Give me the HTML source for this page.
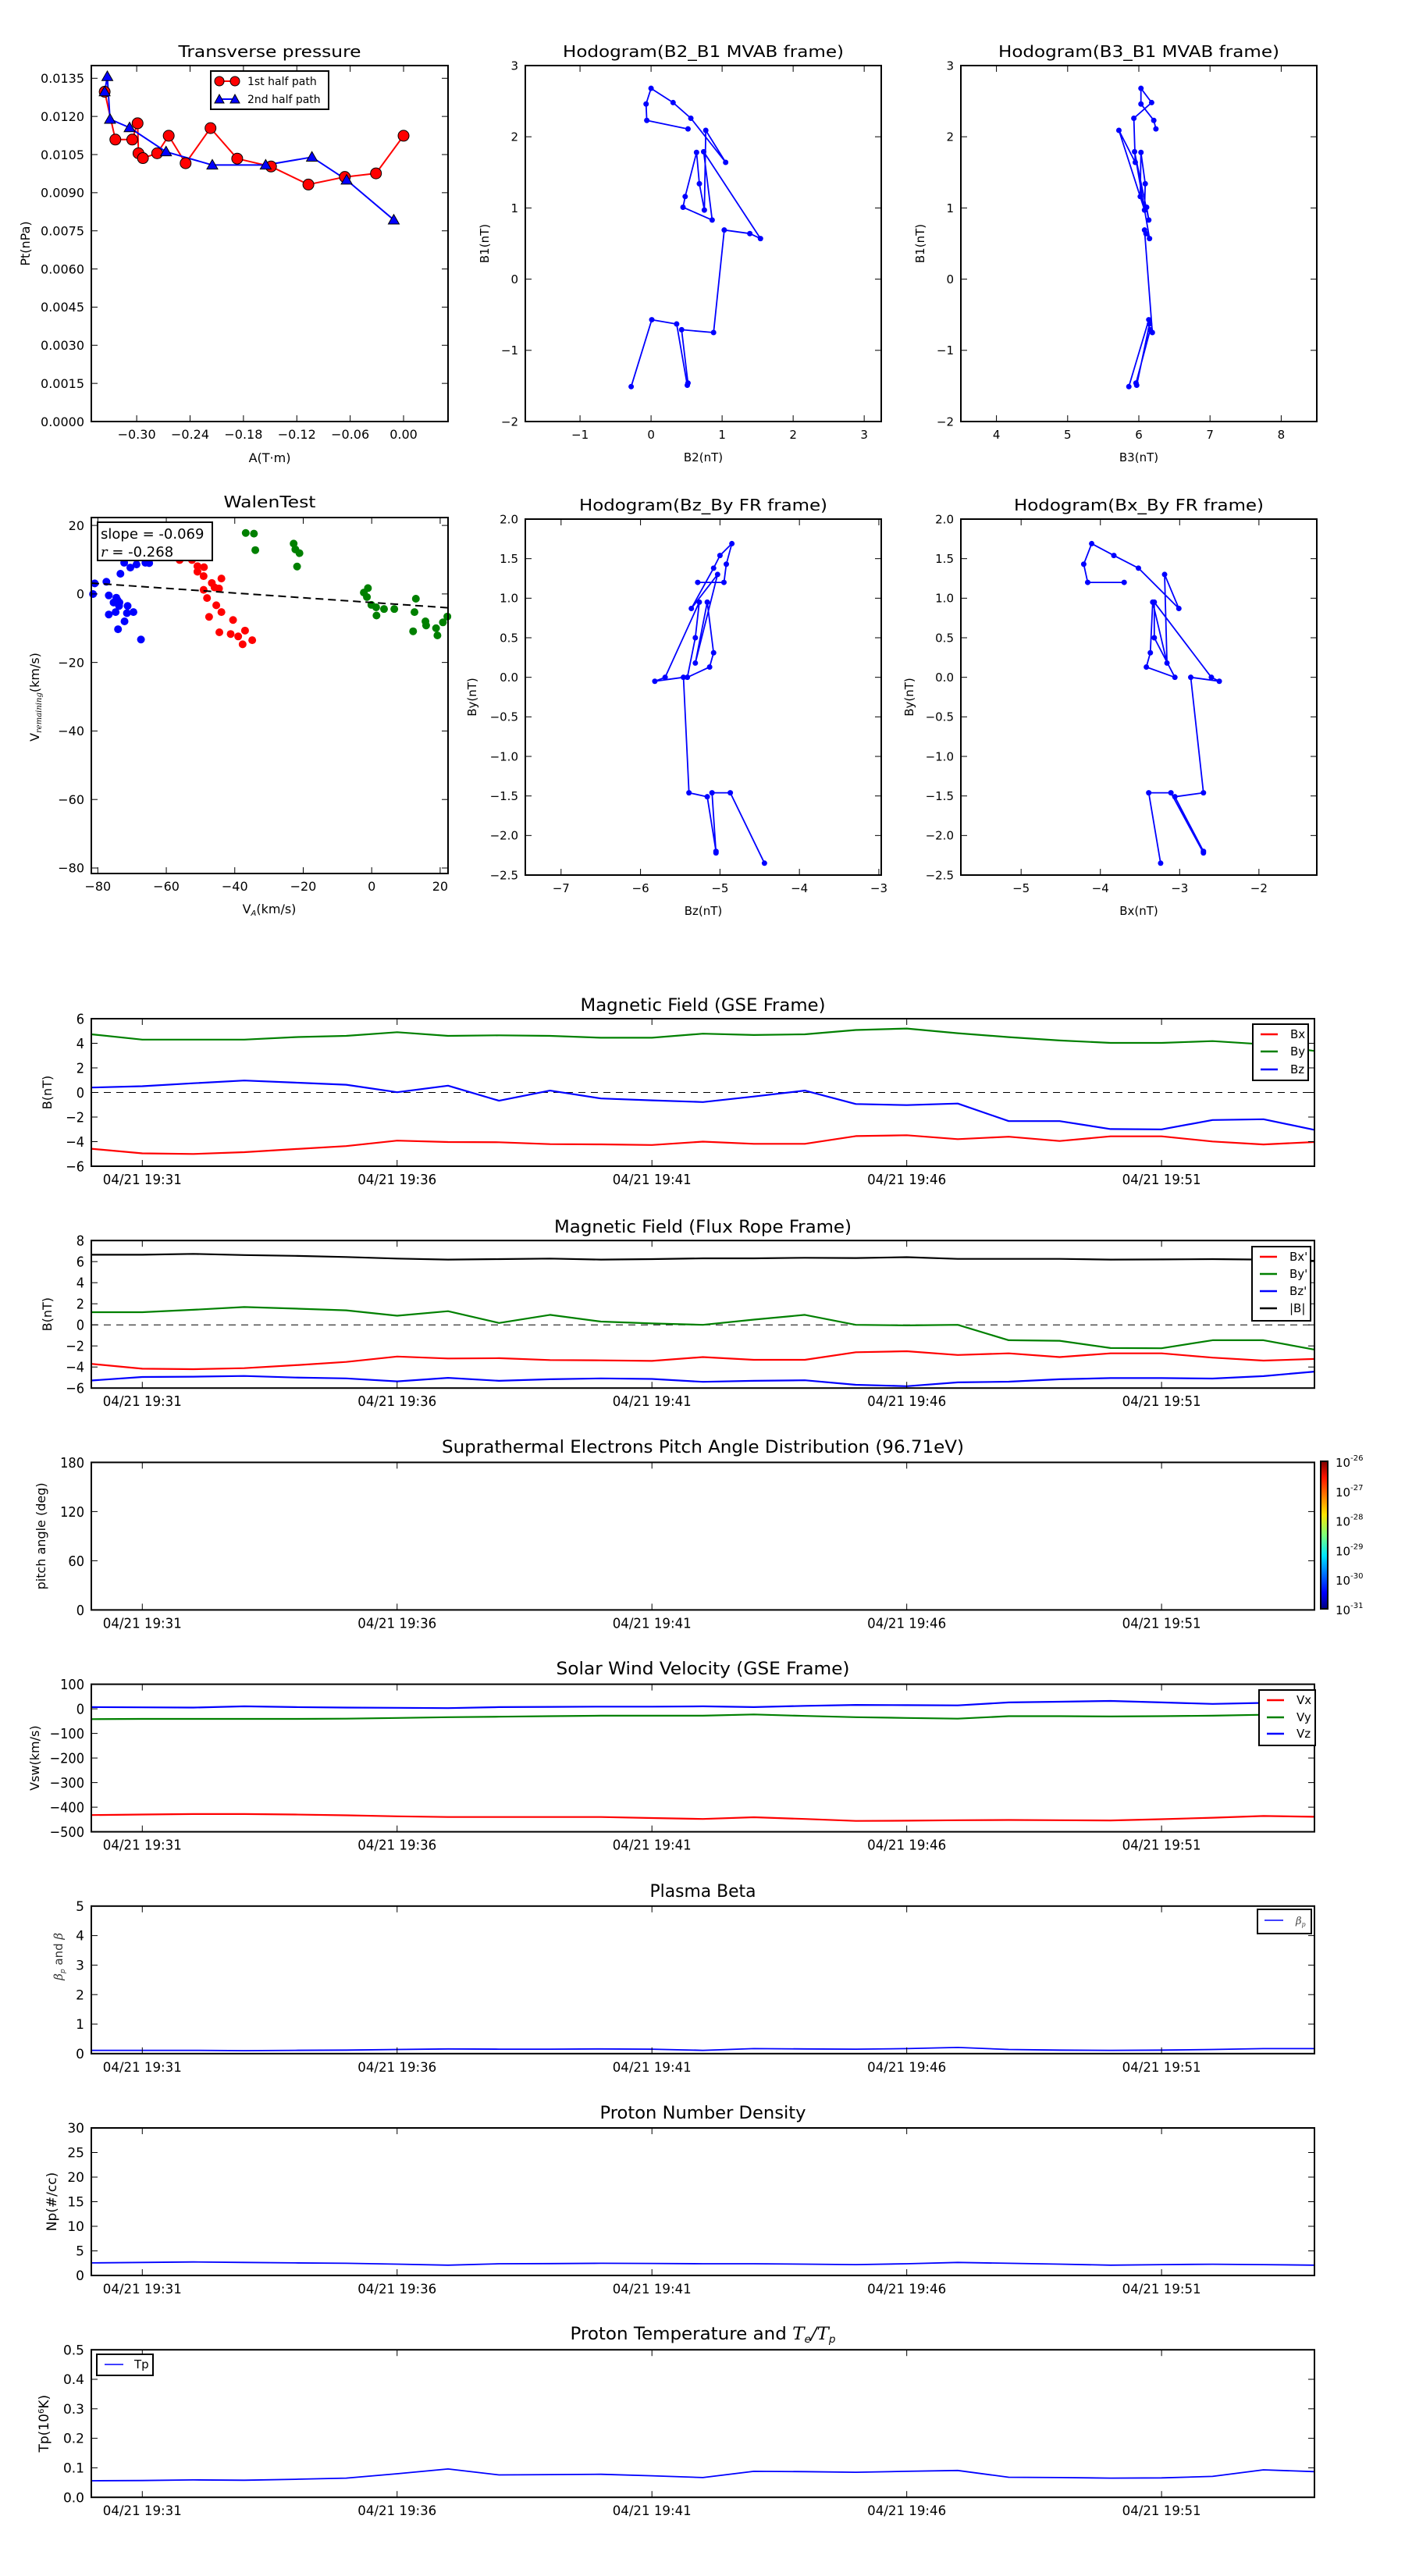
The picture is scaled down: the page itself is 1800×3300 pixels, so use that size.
<!DOCTYPE html>
<html><head><meta charset="utf-8"><title>Flux rope analysis</title>
<style>
html,body{margin:0;padding:0;background:#fff;}
svg{display:block;font-family:"DejaVu Sans","Liberation Sans",sans-serif;}
</style></head>
<body>
<svg id="fig" xmlns="http://www.w3.org/2000/svg" width="1800" height="3300" viewBox="0 0 1800 3300"></svg>
<script>
// ---------- Transverse pressure data ----------
const ptA1 = [-0.336,-0.324,-0.305,-0.299,-0.298,-0.293,-0.277,-0.264,-0.245,-0.217,-0.187,-0.149,-0.107,-0.066,-0.031,0.0];
const ptP1 = [0.01297,0.01109,0.01109,0.01173,0.01055,0.01036,0.01055,0.01124,0.01016,0.01154,0.01034,0.01003,0.00932,0.00962,0.00976,0.01124];
const ptA2 = [-0.011,-0.064,-0.103,-0.155,-0.215,-0.267,-0.308,-0.330,-0.333,-0.336];
const ptP2 = [0.00793,0.0095,0.0104,0.01009,0.01009,0.01061,0.01156,0.01189,0.01357,0.01297];
const ptXTicks = [-0.30,-0.24,-0.18,-0.12,-0.06,0.00];
const ptXLabels = ['\u22120.30','\u22120.24','\u22120.18','\u22120.12','\u22120.06','0.00'];
const ptYTicks = [0,0.0015,0.003,0.0045,0.006,0.0075,0.009,0.0105,0.012,0.0135];
const ptYLabels = ['0.0000','0.0015','0.0030','0.0045','0.0060','0.0075','0.0090','0.0105','0.0120','0.0135'];
// ---------- MVAB hodogram ----------
const mvB1 = [2.11,2.23,2.46,2.68,2.48,2.26,1.64,2.09,0.97,1.34,1.78,1.16,1.01,0.83,1.79,0.57,0.64,0.69,-0.75,-0.71,-1.46,-1.49,-0.63,-0.57,-1.51];
const mvB2 = [0.52,-0.06,-0.07,0.0,0.31,0.56,1.05,0.77,0.75,0.68,0.64,0.48,0.45,0.86,0.74,1.54,1.39,1.03,0.88,0.43,0.52,0.51,0.36,0.01,-0.28];
const mvB3 = [6.24,6.21,6.03,6.03,6.18,5.93,5.95,5.72,6.08,6.09,6.03,6.02,6.11,6.14,5.94,6.15,6.10,6.08,6.19,6.16,5.96,5.97,6.15,6.14,5.86];
// ---------- Walen test ----------
const walBlueX = [-81.4,-80.9,-77.5,-76.8,-74.6,-74.2,-73.7,-75.4,-73.8,-74.8,-76.8,-72.2,-74.1,-71.3,-71.5,-69.6,-73.4,-70.5,-68.7,-72.3,-67.4,-66.1,-65.0];
const walBlueY = [-0.03,3.07,3.56,-0.44,-1.1,-1.9,-2.5,-2.5,-3.5,-5.3,-6.0,-8.0,-10.3,-3.5,-5.6,-5.3,5.9,7.7,8.6,9.1,-13.3,9.1,9.0];
const walRedX = [-56.1,-52.5,-50.9,-49.0,-50.9,-49.1,-43.9,-46.7,-45.9,-44.6,-49.1,-48.1,-45.4,-43.9,-47.5,-40.5,-44.5,-41.2,-39.0,-37.0,-37.7,-34.9];
const walRedY = [9.9,9.9,8.1,7.8,6.5,5.2,4.5,3.2,1.9,1.6,1.2,-1.2,-3.3,-5.3,-6.7,-7.6,-11.2,-11.7,-12.4,-10.7,-14.7,-13.5];
const walGreenX = [-36.8,-34.4,-34.0,-22.8,-22.3,-21.1,-21.8,-2.3,-1.1,-1.4,-0.1,1.3,1.4,3.6,6.6,12.1,12.5,12.9,15.7,15.9,18.8,19.2,20.8,22.1];
const walGreenY = [17.8,17.6,12.8,14.7,13.0,11.9,8.0,0.4,1.7,-0.9,-3.2,-3.9,-6.3,-4.4,-4.4,-10.9,-5.3,-1.4,-8.0,-9.2,-10.0,-12.1,-8.3,-6.6];
const walSlope = [-0.069];
const walIntercept = [-2.5];
const walTicks = [-80,-60,-40,-20,0,20];
const walTickLabels = ['\u221280','\u221260','\u221240','\u221220','0','20'];
// ---------- Time series ----------
const minutes = [0,1,2,3,4,5,6,7,8,9,10,11,12,13,14,15,16,17,18,19,20,21,22,23,24];
const timeTicks = [1,6,11,16,21];
const timeTickLabels = ['04/21 19:31','04/21 19:36','04/21 19:41','04/21 19:46','04/21 19:51'];
const gseBx = [-4.58,-4.95,-5.0,-4.86,-4.6,-4.36,-3.92,-4.03,-4.05,-4.2,-4.22,-4.27,-4.0,-4.18,-4.18,-3.55,-3.48,-3.8,-3.6,-3.95,-3.57,-3.57,-3.99,-4.23,-4.03];
const gseBy = [4.73,4.3,4.3,4.3,4.5,4.6,4.9,4.6,4.65,4.6,4.45,4.45,4.78,4.67,4.73,5.08,5.2,4.82,4.5,4.23,4.03,4.03,4.18,3.92,3.38];
const gseBz = [0.4,0.51,0.75,0.97,0.8,0.63,0.02,0.55,-0.67,0.15,-0.49,-0.64,-0.78,-0.33,0.15,-0.94,-1.03,-0.9,-2.33,-2.33,-2.98,-3.0,-2.24,-2.18,-3.04];
const frBx = [-3.7,-4.16,-4.21,-4.11,-3.83,-3.52,-3.01,-3.19,-3.16,-3.34,-3.37,-3.42,-3.06,-3.32,-3.32,-2.6,-2.5,-2.86,-2.7,-3.06,-2.7,-2.7,-3.11,-3.39,-3.24];
const frBy = [1.2,1.2,1.43,1.69,1.54,1.38,0.87,1.3,0.18,0.95,0.31,0.13,0.0,0.5,0.95,0.0,-0.05,0.0,-1.46,-1.51,-2.2,-2.22,-1.46,-1.46,-2.35];
const frBz = [-5.28,-4.95,-4.92,-4.85,-5.0,-5.08,-5.36,-5.03,-5.31,-5.16,-5.08,-5.13,-5.41,-5.31,-5.26,-5.69,-5.82,-5.46,-5.39,-5.16,-5.05,-5.05,-5.1,-4.87,-4.44];
const frBt = [6.65,6.65,6.73,6.62,6.55,6.44,6.29,6.19,6.24,6.29,6.19,6.24,6.31,6.31,6.36,6.34,6.42,6.26,6.26,6.26,6.19,6.21,6.24,6.19,6.08];
const vx = [-432,-430,-428,-428,-430,-433,-437,-440,-440,-440,-440,-444,-448,-441,-448,-456,-455,-453,-452,-453,-454,-449,-443,-436,-439];
const vy = [-42,-41,-41,-41,-41,-40,-37,-34,-32,-30,-28,-28,-28,-23,-29,-34,-37,-40,-30,-30,-31,-30,-28,-24,-15];
const vz = [7,6,5,10,7,5,4,3,7,8,9,9,10,7,12,16,15,14,26,29,32,26,20,24,29];
const betaP = [0.11,0.11,0.11,0.10,0.11,0.12,0.14,0.16,0.15,0.15,0.16,0.15,0.11,0.17,0.16,0.15,0.17,0.21,0.14,0.12,0.11,0.12,0.14,0.17,0.17];
const np = [2.56,2.65,2.74,2.65,2.56,2.47,2.3,2.1,2.38,2.42,2.47,2.44,2.38,2.38,2.3,2.2,2.38,2.65,2.47,2.3,2.1,2.2,2.29,2.2,2.1];
const tp = [0.056,0.057,0.059,0.058,0.061,0.065,0.08,0.096,0.076,0.077,0.078,0.073,0.067,0.088,0.087,0.085,0.088,0.091,0.068,0.067,0.065,0.066,0.071,0.093,0.087];

const NS = 'http://www.w3.org/2000/svg';
const svg = document.getElementById('fig');
function named(el, n) {
  
  
  return el;
}
function mk(tag, attrs, parent, text) {
  const e = document.createElementNS(NS, tag);
  for (const k in attrs) e.setAttribute(k, attrs[k]);
  if (text !== undefined) e.textContent = text;
  (parent || svg).appendChild(e);
  return e;
}
function group(name) {
  const g = mk('g', {});
  named(g, name);
  return g;
}
function makeAxes(g, x, y, w, h, xmin, xmax, ymin, ymax) {
  return {g, x, y, w, h,
    sx: v => x + (v - xmin) / (xmax - xmin) * w,
    sy: v => y + h - (v - ymin) / (ymax - ymin) * h};
}
function frame(ax) {
  const r = mk('rect', {x: ax.x, y: ax.y, width: ax.w, height: ax.h, fill: 'none', stroke: '#000', 'stroke-width': 2}, ax.g);
  named(r, 'plot-frame');
}
function xTicks(ax, ticks, labels, opt) {
  opt = opt || {};
  const fs = opt.fs || 16;
  ticks.forEach((t, i) => {
    const px = ax.sx(t);
    const a = mk('line', {x1: px, x2: px, y1: ax.y + ax.h, y2: ax.y + ax.h - 8, stroke: '#000', 'stroke-width': 1}, ax.g);
    named(a, 'x-tick');
    const b = mk('line', {x1: px, x2: px, y1: ax.y, y2: ax.y + 8, stroke: '#000', 'stroke-width': 1}, ax.g);
    named(b, 'x-tick');
    const attrs = {x: px, y: ax.y + ax.h + (opt.dy || 22), 'font-size': fs, 'text-anchor': 'middle', fill: '#000'};
    if (opt.cond) attrs['font-family'] = '"DejaVu Sans Condensed","Liberation Sans Narrow","DejaVu Sans",sans-serif';
    if (opt.tl) { attrs['textLength'] = opt.tl; attrs['lengthAdjust'] = 'spacingAndGlyphs'; }
    const t2 = mk('text', attrs, ax.g, labels[i]);
    named(t2, 'x-tick-label');
  });
}
function yTicks(ax, ticks, labels, opt) {
  opt = opt || {};
  const fs = opt.fs || 16;
  ticks.forEach((t, i) => {
    const py = ax.sy(t);
    const a = mk('line', {x1: ax.x, x2: ax.x + 8, y1: py, y2: py, stroke: '#000', 'stroke-width': 1}, ax.g);
    named(a, 'y-tick');
    const b = mk('line', {x1: ax.x + ax.w, x2: ax.x + ax.w - 8, y1: py, y2: py, stroke: '#000', 'stroke-width': 1}, ax.g);
    named(b, 'y-tick');
    const attrs = {x: ax.x - 9, y: py + fs * 0.36, 'font-size': fs, 'text-anchor': 'end', fill: '#000'};
    if (opt.cond) attrs['font-family'] = '"DejaVu Sans Condensed","Liberation Sans Narrow","DejaVu Sans",sans-serif';
    const t2 = mk('text', attrs, ax.g, labels[i]);
    named(t2, 'y-tick-label');
  });
}
function title(ax, txt, baseline, width, cond, fs) {
  const attrs = {x: ax.x + ax.w / 2, y: baseline, 'font-size': fs || 20, 'text-anchor': 'middle', fill: '#000'};
  if (width) { attrs.textLength = width; attrs.lengthAdjust = 'spacingAndGlyphs'; }
  if (cond) attrs['font-family'] = '"DejaVu Sans Condensed","Liberation Sans Narrow","DejaVu Sans",sans-serif';
  const t = mk('text', attrs, ax.g, txt);
  named(t, 'chart-title');
  return t;
}
function xLabel(ax, txt, baseline, fs) {
  const t = mk('text', {x: ax.x + ax.w / 2, y: baseline, 'font-size': fs || 16, 'text-anchor': 'middle'}, ax.g, txt);
  named(t, 'x-axis-title');
  return t;
}
function yLabel(ax, txt, cx, fs) {
  const cy = ax.y + ax.h / 2;
  const t = mk('text', {x: cx, y: cy, 'font-size': fs || 16, 'text-anchor': 'middle', transform: 'rotate(-90 ' + cx + ' ' + cy + ')'}, ax.g, txt);
  named(t, 'y-axis-title');
  return t;
}
function polyline(ax, xs, ys, color, w, name, dash) {
  const pts = xs.map((v, i) => ax.sx(v).toFixed(1) + ',' + ax.sy(ys[i]).toFixed(1)).join(' ');
  const attrs = {points: pts, fill: 'none', stroke: color, 'stroke-width': w, 'stroke-linejoin': 'round'};
  if (dash) attrs['stroke-dasharray'] = dash;
  const p = mk('polyline', attrs, ax.g);
  named(p, name);
  return p;
}
function dots(ax, xs, ys, color, r, name, stroke) {
  xs.forEach((v, i) => {
    const c = mk('circle', {cx: ax.sx(v), cy: ax.sy(ys[i]), r: r, fill: color, stroke: stroke || 'none', 'stroke-width': 1}, ax.g);
    named(c, name);
  });
}
function tris(ax, xs, ys, color, s, name) {
  xs.forEach((v, i) => {
    const cx = ax.sx(v), cy = ax.sy(ys[i]);
    const p = mk('polygon', {points: cx + ',' + (cy - s) + ' ' + (cx - s) + ',' + (cy + s * 0.75) + ' ' + (cx + s) + ',' + (cy + s * 0.75), fill: color, stroke: '#000', 'stroke-width': 1}, ax.g);
    named(p, name);
  });
}
function fmtNum(v, d) { const s = Math.abs(v).toFixed(d); return (v < 0 ? '\u2212' : '') + s; }

// ================= Transverse pressure =================
(function(){
  const g = group('transverse-pressure-chart');
  const ax = makeAxes(g, 117, 84, 457, 456, -0.351, 0.05, 0, 0.014);
  polyline(ax, ptA1, ptP1, '#ff0000', 2, 'first-half-path-line');
  polyline(ax, ptA2, ptP2, '#0000ff', 2, 'second-half-path-line');
  dots(ax, ptA1, ptP1, '#ff0000', 7, 'first-half-point', '#000');
  tris(ax, ptA2, ptP2, '#0000ff', 7, 'second-half-point');
  frame(ax);
  xTicks(ax, ptXTicks, ptXLabels, {fs: 16});
  yTicks(ax, ptYTicks, ptYLabels, {fs: 16});
  title(ax, 'Transverse pressure', 73, 234);
  xLabel(ax, 'A(T\u00b7m)', 592);
  yLabel(ax, 'Pt(nPa)', 38);
  const lg = mk('g', {}, g); named(lg, 'legend');
  const lb = mk('rect', {x: 270, y: 91, width: 151, height: 49, fill: '#fff', stroke: '#000', 'stroke-width': 2}, lg); named(lb, 'legend-box');
  const l1 = mk('line', {x1: 281, x2: 301, y1: 104, y2: 104, stroke: '#ff0000', 'stroke-width': 2}, lg); named(l1, 'legend-line-first');
  [281, 301].forEach(px => { const c = mk('circle', {cx: px, cy: 104, r: 6, fill: '#ff0000', stroke: '#000'}, lg); named(c, 'legend-marker-first'); });
  const t1 = mk('text', {x: 317, y: 109, 'font-size': 14}, lg, '1st half path'); named(t1, 'legend-entry-first');
  const l2 = mk('line', {x1: 281, x2: 301, y1: 127, y2: 127, stroke: '#0000ff', 'stroke-width': 2}, lg); named(l2, 'legend-line-second');
  [281, 301].forEach(px => { const p = mk('polygon', {points: px + ',' + 121 + ' ' + (px - 6) + ',' + 132 + ' ' + (px + 6) + ',' + 132, fill: '#0000ff', stroke: '#000'}, lg); named(p, 'legend-marker-second'); });
  const t2 = mk('text', {x: 317, y: 132, 'font-size': 14}, lg, '2nd half path'); named(t2, 'legend-entry-second');
})();

// ================= Hodograms =================
function hodogram(name, x, y, xr, yr, xs, ys, xt, yt, yDec, ttl, tw, xl, yl, ylx, tb, xlb) {
  const g = group(name);
  const ax = makeAxes(g, x, y, 456, 456, xr[0], xr[1], yr[0], yr[1]);
  polyline(ax, xs, ys, '#0000ff', 1.8, 'hodogram-path');
  dots(ax, xs, ys, '#0000ff', 3.5, 'hodogram-point');
  frame(ax);
  xTicks(ax, xt, xt.map(v => fmtNum(v, 0)), {fs: 15, dy: 22});
  yTicks(ax, yt, yt.map(v => fmtNum(v, yDec)), {fs: 15});
  title(ax, ttl, tb, tw);
  xLabel(ax, xl, xlb, 15);
  yLabel(ax, yl, ylx, 15);
}
hodogram('hodogram-b2-b1', 673, 84, [-1.77, 3.24], [-2, 3], mvB2, mvB1, [-1,0,1,2,3], [-2,-1,0,1,2,3], 0, 'Hodogram(B2_B1 MVAB frame)', 360, 'B2(nT)', 'B1(nT)', 626, 73, 591);
hodogram('hodogram-b3-b1', 1231, 84, [3.5, 8.5], [-2, 3], mvB3, mvB1, [4,5,6,7,8], [-2,-1,0,1,2,3], 0, 'Hodogram(B3_B1 MVAB frame)', 360, 'B3(nT)', 'B1(nT)', 1184, 73, 591);
hodogram('hodogram-bz-by', 673, 665, [-7.45, -2.97], [-2.5, 2.0], frBz, frBy, [-7,-6,-5,-4,-3], [-2.5,-2,-1.5,-1,-0.5,0,0.5,1,1.5,2], 1, 'Hodogram(Bz_By FR frame)', 318, 'Bz(nT)', 'By(nT)', 610, 654, 1172);
hodogram('hodogram-bx-by', 1231, 665, [-5.76, -1.27], [-2.5, 2.0], frBx, frBy, [-5,-4,-3,-2], [-2.5,-2,-1.5,-1,-0.5,0,0.5,1,1.5,2], 1, 'Hodogram(Bx_By FR frame)', 320, 'Bx(nT)', 'By(nT)', 1170, 654, 1172);

// ================= Walen test =================
(function(){
  const g = group('walen-test-chart');
  const ax = makeAxes(g, 117, 663, 457, 456, -81.9, 22.3, -81.6, 22.3);
  dots(ax, walBlueX, walBlueY, '#0000ff', 5, 'walen-point-blue');
  dots(ax, walRedX, walRedY, '#ff0000', 5, 'walen-point-red');
  dots(ax, walGreenX, walGreenY, '#008000', 5, 'walen-point-green');
  const fx = [-81.9, 22.3];
  polyline(ax, fx, fx.map(v => walSlope[0] * v + walIntercept[0]), '#000', 2, 'walen-fit-line', '10,6');
  frame(ax);
  xTicks(ax, walTicks, walTickLabels, {fs: 16});
  yTicks(ax, [-80,-60,-40,-20,0,20], walTickLabels, {fs: 16});
  title(ax, 'WalenTest', 650, 118);
  const xl = mk('text', {x: 345, y: 1170, 'font-size': 16, 'text-anchor': 'middle'}, g); named(xl, 'x-axis-title');
  mk('tspan', {}, xl, 'V');
  mk('tspan', {'font-size': 10, 'font-style': 'italic', dy: 3}, xl, 'A');
  mk('tspan', {dy: -3}, xl, '(km/s)');
  const cy = 893;
  const yl = mk('text', {x: 50, y: cy, 'font-size': 16, 'text-anchor': 'middle', transform: 'rotate(-90 50 ' + cy + ')'}, g); named(yl, 'y-axis-title');
  mk('tspan', {}, yl, 'V');
  mk('tspan', {'font-size': 10, 'font-style': 'italic', dy: 3, 'font-family': '"DejaVu Serif",serif'}, yl, 'remaining');
  mk('tspan', {dy: -3}, yl, '(km/s)');
  const box = mk('rect', {x: 125, y: 669, width: 147, height: 49, fill: '#fff', stroke: '#000', 'stroke-width': 2}, g); named(box, 'stats-box');
  const s1 = mk('text', {x: 129, y: 690, 'font-size': 18}, g, 'slope = -0.069'); named(s1, 'slope-text');
  const s2 = mk('text', {x: 129, y: 713, 'font-size': 18}, g); named(s2, 'r-text');
  mk('tspan', {'font-style': 'italic', 'font-family': '"DejaVu Serif",serif'}, s2, 'r');
  mk('tspan', {}, s2, ' = -0.268');
})();

// ================= Time series panels =================
const TX = 117, TW = 1567;
function tpanel(name, i, ymin, ymax) {
  const g = group(name);
  const ax = makeAxes(g, TX, 1305 + i * 284.2, TW, 189, 0, 24, ymin, ymax);
  return ax;
}
function tframe(ax, yt, yl, cond) {
  frame(ax);
  xTicks(ax, timeTicks, timeTickLabels, cond ? {fs: 18, dy: 23, cond: true, tl: 101} : {fs: 17, dy: 23, tl: 101});
  yTicks(ax, yt, yl, cond ? {fs: 18, cond: true} : {fs: 17});
}
function zeroLine(ax) {
  const l = mk('line', {x1: ax.x, x2: ax.x + ax.w, y1: ax.sy(0), y2: ax.sy(0), stroke: '#000', 'stroke-width': 1, 'stroke-dasharray': '9,7'}, ax.g);
  named(l, 'zero-line');
}
function legend(ax, x, y, w, h, entries, ys, fs) {
  const lg = mk('g', {}, ax.g); named(lg, 'legend');
  const b = mk('rect', {x: x, y: y, width: w, height: h, fill: '#fff', stroke: '#000', 'stroke-width': 2}, lg); named(b, 'legend-box');
  entries.forEach((e, k) => {
    const l = mk('line', {x1: x + 10, x2: x + 32, y1: ys[k], y2: ys[k], stroke: e[1], 'stroke-width': 2.5}, lg); named(l, 'legend-swatch');
    const t = mk('text', {x: x + 48, y: ys[k] + 5, 'font-size': fs || 15}, lg, e[0]); named(t, 'legend-entry');
  });
  return lg;
}
const dash = ['\u22126','\u22124','\u22122','0','2','4','6','8'];
// Panel 1
(function(){
  const ax = tpanel('magnetic-field-gse-panel', 0, -6, 6);
  zeroLine(ax);
  polyline(ax, minutes, gseBx, '#ff0000', 2.2, 'bx-line');
  polyline(ax, minutes, gseBy, '#008000', 2.2, 'by-line');
  polyline(ax, minutes, gseBz, '#0000ff', 2.2, 'bz-line');
  tframe(ax, [-6,-4,-2,0,2,4,6], dash.slice(0,7), true);
  title(ax, 'Magnetic Field (GSE Frame)', 1295, 314, true, 22);
  yLabel(ax, 'B(nT)', 66, 16);
  legend(ax, 1605, 1312, 71, 72, [['Bx','#ff0000'],['By','#008000'],['Bz','#0000ff']], [1325, 1347, 1370]);
})();
// Panel 2
(function(){
  const ax = tpanel('magnetic-field-flux-rope-panel', 1, -6, 8);
  zeroLine(ax);
  polyline(ax, minutes, frBx, '#ff0000', 2.2, 'bx-prime-line');
  polyline(ax, minutes, frBy, '#008000', 2.2, 'by-prime-line');
  polyline(ax, minutes, frBz, '#0000ff', 2.2, 'bz-prime-line');
  polyline(ax, minutes, frBt, '#000000', 2.2, 'b-total-line');
  tframe(ax, [-6,-4,-2,0,2,4,6,8], dash, true);
  title(ax, 'Magnetic Field (Flux Rope Frame)', 1579, 381, true, 22);
  yLabel(ax, 'B(nT)', 66, 16);
  legend(ax, 1604, 1597, 75, 95, [["Bx'",'#ff0000'],["By'",'#008000'],["Bz'",'#0000ff'],['|B|','#000']], [1610, 1632, 1654, 1676]);
})();
// Panel 3 PAD
(function(){
  const ax = tpanel('pitch-angle-distribution-panel', 2, 0, 180);
  tframe(ax, [0,60,120,180], ['0','60','120','180'], true);
  title(ax, 'Suprathermal Electrons Pitch Angle Distribution (96.71eV)', 1861, 669, true, 22);
  yLabel(ax, 'pitch angle (deg)', 58, 16);
  const defs = mk('defs', {});
  const lgd = mk('linearGradient', {id: 'jet', x1: 0, y1: 1, x2: 0, y2: 0}, defs);
  [['0','#00007f'],['0.11','#0000ff'],['0.36','#00e5ff'],['0.5','#7dff7a'],['0.64','#ffe500'],['0.89','#ff1400'],['1','#7f0000']].forEach(s => mk('stop', {offset: s[0], 'stop-color': s[1]}, lgd));
  const cb = mk('rect', {x: 1692, y: 1872, width: 9, height: 189, fill: 'url(#jet)', stroke: '#000', 'stroke-width': 2}, ax.g);
  named(cb, 'colorbar');
  const cbExp = ['-26','-27','-28','-29','-30','-31'];
  cbExp.forEach((e, k) => {
    const py = 1872 + k * 189 / 5;
    const t = mk('text', {x: 1711, y: py + 7, 'font-size': 15}, ax.g); named(t, 'colorbar-tick-label');
    mk('tspan', {}, t, '10');
    mk('tspan', {'font-size': 10, dy: -8}, t, e);
  });
})();
// Panel 4 velocity
(function(){
  const ax = tpanel('solar-wind-velocity-panel', 3, -500, 100);
  polyline(ax, minutes, vx, '#ff0000', 2.2, 'vx-line');
  polyline(ax, minutes, vy, '#008000', 2.2, 'vy-line');
  polyline(ax, minutes, vz, '#0000ff', 2.2, 'vz-line');
  tframe(ax, [-500,-400,-300,-200,-100,0,100], ['\u2212500','\u2212400','\u2212300','\u2212200','\u2212100','0','100'], true);
  title(ax, 'Solar Wind Velocity (GSE Frame)', 2145, 376, true, 22);
  yLabel(ax, 'Vsw(km/s)', 50, 16);
  legend(ax, 1613, 2165, 72, 71, [['Vx','#ff0000'],['Vy','#008000'],['Vz','#0000ff']], [2178, 2200, 2221]);
})();
// Panel 5 beta
(function(){
  const ax = tpanel('plasma-beta-panel', 4, 0, 5);
  polyline(ax, minutes, betaP, '#0000ff', 1.8, 'beta-p-line');
  tframe(ax, [0,1,2,3,4,5], ['0','1','2','3','4','5'], false);
  title(ax, 'Plasma Beta', 2430, 136, false, 22);
  const cy = ax.y + ax.h / 2 - 30;
  const yl = mk('text', {x: 80, y: cy, 'font-size': 15, 'text-anchor': 'middle', transform: 'rotate(-90 80 ' + cy + ')', fill: '#333'}, ax.g); named(yl, 'y-axis-title');
  mk('tspan', {'font-style': 'italic', 'font-family': '"DejaVu Serif",serif'}, yl, '\u03b2');
  mk('tspan', {'font-size': 9, dy: 3, 'font-style': 'italic'}, yl, 'p');
  mk('tspan', {dy: -3}, yl, ' and ');
  mk('tspan', {'font-style': 'italic', 'font-family': '"DejaVu Serif",serif'}, yl, '\u03b2');
  const lg = mk('g', {}, ax.g); named(lg, 'legend');
  const b = mk('rect', {x: 1611, y: 2446, width: 69, height: 31, fill: '#fff', stroke: '#000', 'stroke-width': 2}, lg); named(b, 'legend-box');
  const l = mk('line', {x1: 1620, x2: 1644, y1: 2460, y2: 2460, stroke: '#0000ff', 'stroke-width': 1.6}, lg); named(l, 'legend-swatch');
  const t = mk('text', {x: 1660, y: 2465, 'font-size': 13, 'font-style': 'italic', 'font-family': '"DejaVu Serif",serif', fill: '#444'}, lg); named(t, 'legend-entry');
  mk('tspan', {}, t, '\u03b2');
  mk('tspan', {'font-size': 8, dy: 3}, t, 'p');
})();
// Panel 6 density
(function(){
  const ax = tpanel('proton-density-panel', 5, 0, 30);
  polyline(ax, minutes, np, '#0000ff', 1.8, 'np-line');
  tframe(ax, [0,5,10,15,20,25,30], ['0','5','10','15','20','25','30'], false);
  title(ax, 'Proton Number Density', 2714, 264, false, 22);
  yLabel(ax, 'Np(#/cc)', 72, 17);
})();
// Panel 7 temperature
(function(){
  const ax = tpanel('proton-temperature-panel', 6, 0, 0.5);
  polyline(ax, minutes, tp, '#0000ff', 1.8, 'tp-line');
  tframe(ax, [0,0.1,0.2,0.3,0.4,0.5], ['0.0','0.1','0.2','0.3','0.4','0.5'], false);
  const t = title(ax, '', 2997, 340, false, 22);
  mk('tspan', {}, t, 'Proton Temperature and ');
  mk('tspan', {'font-style': 'italic', 'font-family': '"DejaVu Serif",serif'}, t, 'T');
  mk('tspan', {'font-size': 13, dy: 4, 'font-style': 'italic'}, t, 'e');
  mk('tspan', {dy: -4, 'font-style': 'italic', 'font-family': '"DejaVu Serif",serif'}, t, '/T');
  mk('tspan', {'font-size': 13, dy: 4, 'font-style': 'italic'}, t, 'p');
  const cy = ax.y + ax.h / 2;
  const yl = mk('text', {x: 62, y: cy, 'font-size': 17, 'text-anchor': 'middle', transform: 'rotate(-90 62 ' + cy + ')'}, ax.g); named(yl, 'y-axis-title');
  mk('tspan', {}, yl, 'Tp(10');
  mk('tspan', {'font-size': 10, dy: -6}, yl, '6');
  mk('tspan', {dy: 6}, yl, 'K)');
  const lg = mk('g', {}, ax.g); named(lg, 'legend');
  const b = mk('rect', {x: 124, y: 3016, width: 72, height: 27, fill: '#fff', stroke: '#000', 'stroke-width': 2}, lg); named(b, 'legend-box');
  const l = mk('line', {x1: 134, x2: 158, y1: 3029, y2: 3029, stroke: '#0000ff', 'stroke-width': 1.6}, lg); named(l, 'legend-swatch');
  const tt = mk('text', {x: 172, y: 3034, 'font-size': 15}, lg, 'Tp'); named(tt, 'legend-entry');
})();
</script>
</body></html>
